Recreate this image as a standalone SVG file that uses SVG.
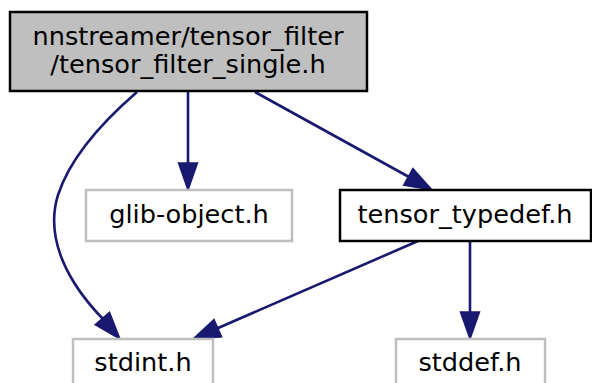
<svg xmlns="http://www.w3.org/2000/svg" width="592" height="383" viewBox="0 0 592 383">
<style>
text{font-family:"DejaVu Sans",sans-serif;font-size:25.6px;fill:#000;text-anchor:middle}
.e{fill:none;stroke:#191970;stroke-width:2.6}
.h{fill:#191970;stroke:#191970;stroke-width:1.5}
.g{fill:#fff;stroke:#bfbfbf;stroke-width:2.5}
.b{fill:#fff;stroke:#000;stroke-width:2.5}
</style>
<rect width="592" height="383" fill="#fff"/>
<g id="edges">
<path class="e" d="M188,92 V164"/>
<polygon class="h" points="178.5,163 197.5,163 188,190"/>
<path class="e" d="M255,92 L409,177"/>
<polygon class="h" points="403.7,185.2 412.9,168.6 432,190"/>
<path class="e" d="M137,92 C100,124 70,158 58,195 C44,240 70,285 103,319"/>
<polygon class="h" points="95.1,324.7 109.5,312.3 120,339"/>
<path class="e" d="M418,241 L217,328.5"/>
<polygon class="h" points="214,319.5 221.6,336.9 193,339"/>
<path class="e" d="M470,241 V313"/>
<polygon class="h" points="460.5,312 479.5,312 470,339"/>
</g>
<g id="n1">
<rect x="10" y="12" width="357" height="79" fill="#bfbfbf" stroke="#000" stroke-width="2.5"/>
<text x="188" y="45">nnstreamer/tensor_filter</text>
<text x="188" y="73">/tensor_filter_single.h</text>
</g>
<g id="n2">
<rect class="g" x="86" y="190" width="206" height="51"/>
<text x="189" y="223">glib-object.h</text>
</g>
<g id="n3">
<rect class="b" x="340" y="190" width="251" height="51"/>
<text x="465" y="223">tensor_typedef.h</text>
</g>
<g id="n4">
<rect class="g" x="73" y="339" width="140" height="51"/>
<text x="143" y="371">stdint.h</text>
</g>
<g id="n5">
<rect class="g" x="396" y="339" width="149" height="51"/>
<text x="470" y="371">stddef.h</text>
</g>
</svg>
